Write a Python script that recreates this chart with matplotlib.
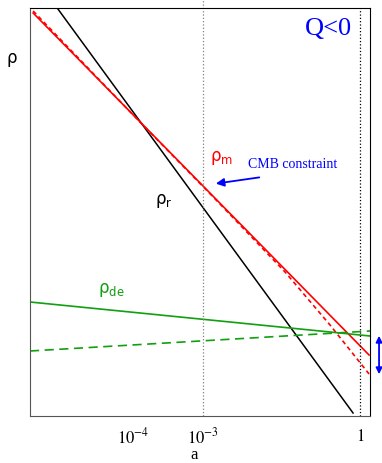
import matplotlib
matplotlib.use("Agg")
import matplotlib.pyplot as plt

# Schematic log-log densities: x is log10(a) (with 1 at 0), y is log(rho) in arbitrary units
rad_x = [-5.79, -0.134]
rad_y = [40.8, 0.3]

mat_x = [-6.25, 0.172]
mat_y = [40.3, 6.1]

mat_int_x = [-6.25, -4.245, -2.677, -1.434, -0.574, 0.172]
mat_int_y = [40.5, 29.6, 21.2, 14.4, 9.1, 4.2]

de_x = [-6.31, 0.19]
de_y = [11.4, 8.0]

de_int_x = [-6.31, 0.19]
de_int_y = [6.5, 8.5]

tick_pos = [-4.34, -3.0, 0.0]
tick_labels = [r"$10^{-4}$", r"$10^{-3}$", r"$1$"]
cmb_a = -3.0
today_a = 0.0

RED = "#ff0000"
GREEN = "#10a010"
BLUE = "#0000ff"

fig = plt.figure(figsize=(3.82, 4.63), dpi=100)
ax = fig.add_axes([30 / 382, 47 / 463, 340 / 382, 408 / 463])

ax.plot(rad_x, rad_y, color="black", lw=1.1)
ax.plot(mat_x, mat_y, color=RED, lw=1.2)
ax.plot(mat_int_x, mat_int_y, color=RED, lw=1.2, dashes=(2.6, 2.0))
ax.plot(de_x, de_y, color=GREEN, lw=1.2)
ax.plot(de_int_x, de_int_y, color=GREEN, lw=1.2, dashes=(5.5, 3.3))

# vertical guides at recombination and today
ax.axvline(cmb_a, ymin=0, ymax=1.02, color="gray", ls=":", lw=0.9, clip_on=False)
ax.axvline(today_a, color="black", ls=":", lw=0.9)

ax.set_xlim(-6.31, 0.19)
ax.set_ylim(0, 40.8)

ax.set_xticks(tick_pos)
ax.set_xticklabels(tick_labels, fontsize=12, math_fontfamily="stix")
ax.tick_params(axis="x", which="major", length=0, pad=8)
ax.set_xticks([today_a], minor=True)
ax.tick_params(axis="x", which="minor", length=5, direction="inout", width=1)
ax.set_yticks([])

for side in ["left", "bottom"]:
    ax.spines[side].set_color("#555555")
for side in ["top", "right"]:
    ax.spines[side].set_color("black")

fig.text(194 / 382, 8 / 463, "a", family="Liberation Serif", fontsize=12,
         ha="center", va="center")
fig.text(11.5 / 382, 1 - 58 / 463, "ρ", fontsize=12, ha="center", va="center")

# labels on the curves
ax.text(-3.75, 21.5, r"$\mathregular{ρ_r}$", fontsize=12, ha="center", va="center")
ax.text(-2.64, 25.8, r"$\mathregular{ρ_m}$", fontsize=12, color=RED, ha="center", va="center")
ax.text(-4.76, 12.6, r"$\mathregular{ρ_{de}}$", fontsize=12, color=GREEN, ha="center", va="center")

ax.text(-0.61, 38.7, "Q<0", family="Liberation Serif", fontsize=19, color=BLUE,
        ha="center", va="center")
ax.text(-1.28, 25.1, "CMB constraint", family="Liberation Serif", fontsize=10,
        color=BLUE, ha="center", va="center")
ax.annotate("", xy=(-2.81, 23.2), xytext=(-1.874, 23.9),
            arrowprops=dict(arrowstyle="-|>", color=BLUE, lw=1.3, mutation_scale=12))

# spread of today's values
ax.annotate("", xy=(0.363, 8.3), xytext=(0.363, 3.9), annotation_clip=False,
            arrowprops=dict(arrowstyle="<|-|>", color=BLUE, lw=1.3, mutation_scale=9))

fig.savefig("out.png", dpi=100)
